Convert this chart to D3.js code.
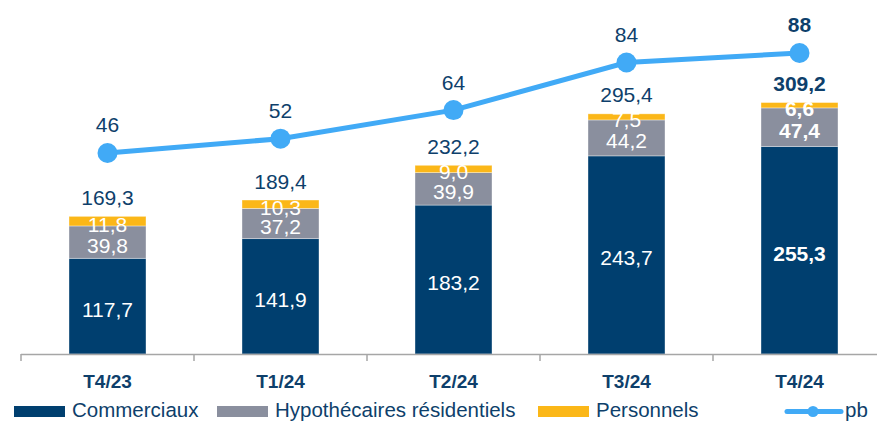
<!DOCTYPE html>
<html><head><meta charset="utf-8">
<script src="https://cdn.jsdelivr.net/npm/d3@7"></script>
<style>
html,body{margin:0;padding:0;background:#fff;}
svg{display:block;font-family:"Liberation Sans",Arial,sans-serif;}
</style></head>
<body><svg id="chart" width="877" height="421"></svg>
<script>
const categories = ["T4/23","T1/24","T2/24","T3/24","T4/24"];
const commerciaux = [117.7,141.9,183.2,243.7,255.3];
const hypothecaires = [39.8,37.2,39.9,44.2,47.4];
const personnels = [11.8,10.3,9.0,7.5,6.6];
const totals = [169.3,189.4,232.2,295.4,309.2];
const pb = [46,52,64,84,88];
const seriesNames = ["Commerciaux","Hypothécaires résidentiels","Personnels"];
const lineName = "pb";

const colors = ["#003f6f","#8a8f9e","#fbb718"];
const lineColor = "#41aaf6";
const textColor = "#0e3f6b";
const fmt = v => d3.format(".1f")(v).replace(".", ",");

const svg = d3.select("#chart");
const x = d3.scaleBand().domain(categories).range([21, 21 + 173*5]).paddingInner(0.555).paddingOuter(0.2775);
const y = d3.scaleLinear().domain([0,400]).range([354, 354 - 400*0.813]);
const y2 = d3.scaleLinear().domain([0,100]).range([262.5, 262.5 - 238.1]);

const rows = categories.map((c,i)=>({cat:c, Commerciaux:commerciaux[i], "Hypothécaires résidentiels":hypothecaires[i], Personnels:personnels[i], last: i===categories.length-1}));
const stack = d3.stack().keys(seriesNames)(rows);

const gBars = svg.append("g");
stack.forEach((layer,li)=>{
  gBars.selectAll(null).data(layer).enter().append("rect")
    .attr("x", d=>x(d.data.cat)).attr("width", x.bandwidth())
    .attr("y", d=>y(d[1])).attr("height", d=>y(d[0])-y(d[1]))
    .attr("fill", colors[li]).attr("stroke","#ffffff").attr("stroke-opacity",0.45).attr("stroke-width",0.8);
});
// segment labels
stack.forEach((layer,li)=>{
  gBars.selectAll(null).data(layer).enter().append("text")
    .attr("x", d=>x(d.data.cat)+x.bandwidth()/2)
    .attr("y", d=>(y(d[0])+y(d[1]))/2 + 3)
    .attr("text-anchor","middle").attr("dominant-baseline","central")
    .attr("fill","#ffffff").attr("font-size",21)
    .attr("font-weight", d=>d.data.last?"bold":"normal")
    .text(d=>fmt(d[1]-d[0]));
});
// totals
svg.append("g").selectAll("text").data(rows).enter().append("text")
  .attr("x", d=>x(d.cat)+x.bandwidth()/2)
  .attr("y", (d,i)=>y(totals[i]) - 19)
  .attr("text-anchor","middle").attr("dominant-baseline","central")
  .attr("fill",textColor).attr("font-size",21)
  .attr("font-weight", d=>d.last?"bold":"normal")
  .text((d,i)=>fmt(totals[i]));

// axis
const axis = d3.axisBottom(x).tickSize(0).tickPadding(0);
const gAxis = svg.append("g").attr("transform","translate(0,354)");
gAxis.append("line").attr("x1",21).attr("x2",877).attr("y1",0.5).attr("y2",0.5).attr("stroke","#a6a6a6").attr("stroke-width",1.5);
const step = x.step();
gAxis.selectAll(".tk").data(d3.range(categories.length+1)).enter().append("line")
  .attr("x1", i=>21 + i*step).attr("x2", i=>21 + i*step).attr("y1",0).attr("y2",7)
  .attr("stroke","#a6a6a6").attr("stroke-width",1.5);
const ax = svg.append("g").attr("transform","translate(0,381)").call(axis);
ax.select(".domain").remove();
ax.selectAll("text").attr("font-size",19).attr("font-weight","bold").attr("fill",textColor)
  .attr("font-family","'Liberation Sans',Arial,sans-serif").attr("dy","0.35em").attr("y",0);

// line
const cx = i => x(categories[i]) + x.bandwidth()/2;
const line = d3.line().x((d,i)=>cx(i)).y(d=>y2(d));
svg.append("path").datum(pb).attr("d",line).attr("fill","none").attr("stroke",lineColor).attr("stroke-width",5);
svg.append("g").selectAll("circle").data(pb).enter().append("circle")
  .attr("cx",(d,i)=>cx(i)).attr("cy",d=>y2(d)).attr("r",10).attr("fill",lineColor);
svg.append("g").selectAll("text").data(pb).enter().append("text")
  .attr("x",(d,i)=>cx(i)).attr("y",d=>y2(d)-28)
  .attr("text-anchor","middle").attr("dominant-baseline","central")
  .attr("fill",textColor).attr("font-size",21)
  .attr("font-weight",(d,i)=>i===pb.length-1?"bold":"normal")
  .text(d=>d);

// legend
const lg = svg.append("g");
const legendItems = [
  {name:seriesNames[0], color:colors[0], x:14},
  {name:seriesNames[1], color:colors[1], x:217},
  {name:seriesNames[2], color:colors[2], x:538}
];
legendItems.forEach(it=>{
  lg.append("rect").attr("x",it.x).attr("y",406).attr("width",51).attr("height",11).attr("fill",it.color);
  lg.append("text").attr("x",it.x+58).attr("y",416.5)
    .attr("font-size",20.5).attr("fill",textColor).text(it.name);
});
lg.append("line").attr("x1",787).attr("x2",841).attr("y1",411.5).attr("y2",411.5).attr("stroke",lineColor).attr("stroke-width",5).attr("stroke-linecap","round");
lg.append("circle").attr("cx",813).attr("cy",411.5).attr("r",5.5).attr("fill",lineColor);
lg.append("text").attr("x",845).attr("y",416.5)
  .attr("font-size",20.5).attr("fill",textColor).text(lineName);
</script></body></html>
